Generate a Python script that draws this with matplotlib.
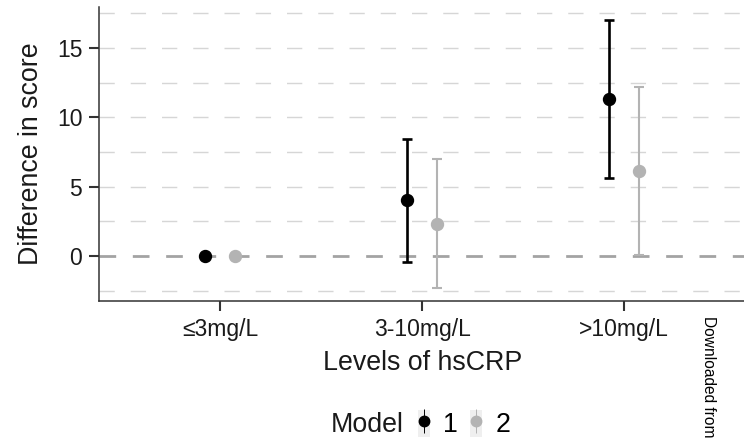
import numpy as np
import matplotlib
matplotlib.use("Agg")
import matplotlib.pyplot as plt
from matplotlib.lines import Line2D
from matplotlib.patches import Rectangle
from matplotlib.legend_handler import HandlerTuple

categories = ["≤3mg/L", "3-10mg/L", ">10mg/L"]
models = ["1", "2"]
model1_est = [0.0, 4.02, 11.31]
model1_lo = [0.0, -0.45, 5.63]
model1_hi = [0.0, 8.47, 16.99]
model2_est = [0.0, 2.33, 6.16]
model2_lo = [0.0, -2.31, 0.07]
model2_hi = [0.0, 6.98, 12.20]
y_ticks = [0, 5, 10, 15]
grid_values = [-2.5, 2.5, 5, 7.5, 10, 12.5, 15, 17.5]

plt.rcParams['font.family'] = ['Liberation Sans', 'DejaVu Sans']
plt.rcParams['lines.scale_dashes'] = False

fig = plt.figure(figsize=(7.44, 4.45), dpi=100)
ax = fig.add_axes([99 / 744, 1 - 301 / 445, 1 - 99 / 744 + 0.002, (301 - 7) / 445])

x = np.arange(len(categories))
dodge = 0.075
colors = ["#000000", "#b3b3b3"]
series = [(model1_est, model1_lo, model1_hi), (model2_est, model2_lo, model2_hi)]
lws = [1.9, 1.5]
caps = [3.9, 3.5]

# grid
for g in grid_values:
    ax.axhline(g, color="#d6d6d6", lw=1.0, dashes=(11, 11.5), zorder=0)
ax.axhline(0, color="#a3a3a3", lw=2.0, dashes=(12, 12), zorder=1)

for i, (est, lo, hi) in enumerate(series):
    est = np.array(est); lo = np.array(lo); hi = np.array(hi)
    xi = x + (i - 0.5) * 2 * dodge
    ax.errorbar(xi, est, yerr=[est - lo, hi - est], fmt='o', color=colors[i],
                ms=8.6, elinewidth=lws[i], capsize=caps[i], capthick=lws[i],
                zorder=3 + i)

ax.set_xlim(-0.6, len(categories) - 1 + 0.6)
ax.set_ylim(-3.25, 17.96)
ax.set_xticks(x)
ax.set_xticklabels(categories)
ax.set_yticks(y_ticks)
for s in ["top", "right"]:
    ax.spines[s].set_visible(False)
for s in ["left", "bottom"]:
    ax.spines[s].set_color("#333333")
    ax.spines[s].set_linewidth(1.1)
ax.tick_params(axis='both', length=7, width=1.5, color="#333333",
               labelsize=16.5, labelcolor="#1a1a1a", pad=5)
ax.set_xlabel("Levels of hsCRP", fontsize=19.3, color="#1a1a1a", labelpad=7)
ax.set_ylabel("Difference in score", fontsize=19.3, color="#1a1a1a", labelpad=9)
ax.set_facecolor("white")

# legend
handles = []
for c in colors:
    bg = Rectangle((0, 0), 1, 1, facecolor="#efefef", edgecolor="none")
    vline = Line2D([], [], linestyle="none", marker="|", markersize=17, mew=0.7, color=c)
    dot = Line2D([], [], linestyle="none", marker="o", markersize=7.5, color=c)
    handles.append((bg, vline, dot))

fig.text(367 / 744, 1 - 425 / 445, "Model", fontsize=19.3, ha="center", va="center",
         color="#1a1a1a")
leg = fig.legend(handles=handles, labels=models, loc="center left",
                 bbox_to_anchor=(418 / 744, 1 - 424 / 445), ncol=2, frameon=False,
                 fontsize=19.3, handlelength=0.45, handleheight=1.2,
                 handletextpad=0.5, columnspacing=0.45,
                 borderaxespad=0, borderpad=0,
                 handler_map={tuple: HandlerTuple(ndivide=1, pad=0)})

fig.text(708 / 744, 1 - 316 / 445, "Downloaded from", rotation=-90, fontsize=11.2,
         ha="center", va="top", color="#000000")

fig.savefig("out.png", dpi=100)
